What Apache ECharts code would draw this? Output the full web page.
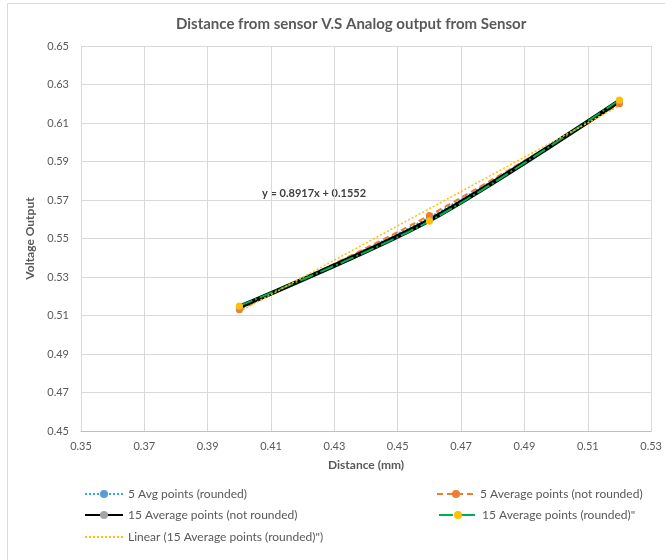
<!DOCTYPE html>
<html><head><meta charset="utf-8">
<script src="https://cdn.jsdelivr.net/npm/echarts@6/dist/echarts.min.js"></script>
<style>html,body{margin:0;padding:0;background:#fff}#c{width:665px;height:560px}</style>
</head><body><div id="c"></div>
<script>
var distances = [0.40, 0.46, 0.52];
var avg5Rounded = [0.514, 0.561, 0.621];
var avg5NotRounded = [0.513, 0.562, 0.620];
var avg15NotRounded = [0.5145, 0.5595, 0.6215];
var avg15Rounded = [0.515, 0.559, 0.622];
var trendX = [0.40, 0.52];
var trendY = [0.512, 0.619];
var equationText = 'y = 0.8917x + 0.1552';
var seriesNames = ['5 Avg points (rounded)', '5 Average points (not rounded)', '15 Average points (not rounded)', '15 Average points (rounded)"', 'Linear (15 Average points (rounded)")'];

function pairs(xs, ys){ return xs.map(function(x,i){return [x, ys[i]];}); }
var FONT = 'Lato, "Open Sans", sans-serif';
var chart = echarts.init(document.getElementById('c'));
function legendAt(name, left, top, extra){
  var l = {data:[name], left:left, top:top, itemWidth:38, itemHeight:10, itemGap:4, padding:0,
    textStyle:{fontFamily:FONT, fontSize:12, color:'#595959'}};
  if (extra) for (var k in extra) l[k] = extra[k];
  return l;
}
chart.setOption({
  animation:false,
  backgroundColor:'#fff',
  title:{text:'Distance from sensor V.S Analog output from Sensor', left:171, top:12,
    textStyle:{fontFamily:FONT, fontSize:15, fontWeight:'bold', color:'#595959'}},
  graphic:[
    {type:'rect', shape:{x:7.5, y:3.5, width:680, height:600}, style:{fill:'none', stroke:'#d9d9d9', lineWidth:1}},
    {type:'text', left:262, top:188, style:{text:equationText, font:'bold 11px Lato, sans-serif', fill:'#404040'}}
  ],
  legend:[
    legendAt(seriesNames[0], 84, 488),
    legendAt(seriesNames[1], 436, 488),
    legendAt(seriesNames[2], 84, 509),
    legendAt(seriesNames[3], 438, 509),
    legendAt(seriesNames[4], 84, 531, {itemStyle:{opacity:0}})
  ],
  grid:{left:81, right:6, top:46, bottom:129, containLabel:false},
  xAxis:{type:'value', min:0.35, max:0.53, interval:0.02, name:'Distance (mm)', nameLocation:'middle', nameGap:28,
    nameTextStyle:{fontFamily:FONT, fontSize:12, fontWeight:'bold', color:'#595959'},
    axisLine:{show:true, lineStyle:{color:'#bfbfbf'}}, axisTick:{show:false},
    axisLabel:{fontFamily:FONT, fontSize:11, color:'#595959', margin:10, formatter:function(v){return v.toFixed(2);}},
    splitLine:{show:true, lineStyle:{color:'#d9d9d9', width:1}}},
  yAxis:{type:'value', min:0.45, max:0.65, interval:0.02, name:'Voltage Output', nameLocation:'middle', nameGap:44,
    nameTextStyle:{fontFamily:FONT, fontSize:12, fontWeight:'bold', color:'#595959'},
    axisLine:{show:false}, axisTick:{show:false},
    axisLabel:{fontFamily:FONT, fontSize:11, color:'#595959', margin:12, formatter:function(v){return v.toFixed(2);}},
    splitLine:{show:true, lineStyle:{color:'#d9d9d9', width:1}}},
  series:[
    {name:seriesNames[0], type:'line', smooth:0.3, data:pairs(distances, avg5Rounded), symbol:'circle', symbolSize:7,
      lineStyle:{color:'#2EA8E6', width:2, type:'dotted'}, itemStyle:{color:'#5B9BD5'}},
    {name:seriesNames[1], type:'line', smooth:0.3, data:pairs(distances, avg5NotRounded), symbol:'circle', symbolSize:7,
      lineStyle:{color:'#ED7D31', width:2, type:[6,4]}, itemStyle:{color:'#ED7D31'}},
    {name:seriesNames[2], type:'line', smooth:0.3, data:pairs(distances, avg15NotRounded), symbol:'circle', symbolSize:7,
      lineStyle:{color:'#000000', width:4.5}, itemStyle:{color:'#A5A5A5'}},
    {name:seriesNames[3], type:'line', smooth:0.3, data:pairs(distances, avg15Rounded), symbol:'circle', symbolSize:7,
      lineStyle:{color:'#00B050', width:2, type:[14,3,2,3]}, itemStyle:{color:'#FFC000'}},
    {name:seriesNames[4], type:'line', data:pairs(trendX, trendY), symbol:'none',
      lineStyle:{color:'#FFC000', width:1.5, type:[2,2]}, itemStyle:{color:'#FFC000'}}
  ]
});
</script></body></html>
